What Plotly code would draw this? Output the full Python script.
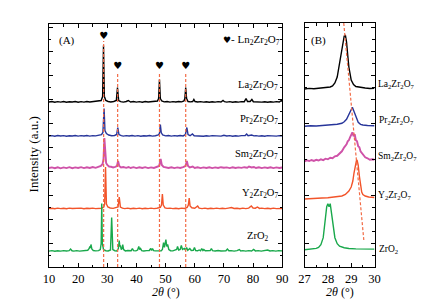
import plotly.graph_objects as go

# ---------------- data (2theta in degrees, intensity in a.u.) ----------------
LA_A = [(10,.5),(11,1),(12,.3),(13,.9),(14,.4),(15,1),(16,.3),(17,.8),(18,.5),(19,1),(20,.3),(21,.9),(22,.4),(23,1),(24,.5),(25,.9),(26,.6),(27,1.2),(27.9,2),(28.4,6),(28.7,57),(29.0,6),(29.5,2),(30.3,1),(31.2,.5),(32.2,1),(33.1,2),(33.5,15),(33.9,2),(34.6,.8),(35.5,.4),(36.5,1),(37.2,2),(38,.5),(39,1),(40,.4),(41,.9),(42,.3),(43,1),(44,.5),(45,.9),(46,.6),(47.2,1.5),(47.6,4),(47.9,23),(48.2,4),(48.7,1.5),(49.5,.6),(50.5,1),(51.5,.4),(52.5,.9),(53.5,.5),(54.5,1),(55.5,.6),(56.3,1.5),(56.6,4),(56.9,15),(57.2,4),(57.7,1),(58.5,.6),(59.3,1),(59.7,3),(60.1,1),(61,.5),(62,.9),(63,.4),(64,.8),(65,.3),(66,.8),(67,.4),(68,.9),(69,.5),(69.7,2),(70.2,.8),(71,.4),(72,.9),(73,.3),(74,.8),(75,.4),(76,.9),(77,.8),(77.6,4),(78.1,1),(79,1),(79.6,3),(80.1,.8),(81,.5),(82,.9),(83,.4),(84,.8),(85,.3),(86,.8),(87,.4),(88,.9),(89,.5),(89.7,2),(90,1)]
PR_A = [(10,.4),(11,.9),(12,.3),(13,1),(14,.5),(15,.9),(16,.3),(17,.8),(18,.5),(19,1),(20,.4),(21,.9),(22,.5),(23,1),(24,.4),(25,.9),(26,.6),(27,1),(28,1.8),(28.5,4),(28.9,28),(29.2,6),(29.7,3),(30.5,1.5),(31.5,.8),(32.5,1),(33.2,2),(33.6,9),(34,2),(34.8,.8),(35.5,.4),(36.5,.9),(37.5,.5),(38.5,1),(39.5,.4),(40.5,.9),(41.5,.3),(42.5,.8),(43.5,.5),(44.5,1),(45.5,.4),(46.5,.8),(47.5,1.5),(47.9,3),(48.2,12),(48.5,4),(49,1.5),(50,.6),(51,1),(52,.4),(53,.9),(54,.5),(55,1),(56,.6),(56.8,2),(57.3,9),(57.7,2),(58.4,.8),(59.2,2.5),(59.8,.7),(61,.4),(62,.9),(63,.3),(64,.8),(65,.4),(66,.9),(67,.5),(68,.8),(69,.4),(70,1.2),(71,.5),(72,.9),(73,.3),(74,.8),(75,.4),(76,.9),(77.3,1),(77.8,2.5),(78.3,.8),(79.5,1.5),(80.3,.6),(81,.9),(82,.4),(83,.8),(84,.3),(85,.9),(86,.5),(87,.8),(88,.4),(89,.9),(90,.6)]
SM_A = [(10,1),(11,1.6),(12,.8),(13,1.7),(14,.7),(15,1.6),(16,.9),(17,1.8),(18,.8),(19,1.6),(20,1),(21,1.8),(22,.9),(23,1.7),(24,1),(25,1.9),(26,1.2),(27,2),(27.8,3),(28.4,5),(28.7,10),(29.0,31),(29.3,11),(29.6,6),(30,4),(30.6,2.5),(31.3,2.2),(32,1.6),(32.7,2.2),(33.3,3),(33.7,8),(34.1,3),(34.7,1.6),(35.5,2),(36.5,1.2),(37.3,2),(38,1),(39,1.8),(40,.9),(41,1.7),(42,1),(43,1.8),(44,.9),(45,1.6),(46,1),(47,1.8),(47.8,3),(48.3,10),(48.7,4),(49.3,2),(50,1.5),(51,1),(52,1.7),(53,.9),(54,1.6),(55,1),(56,1.8),(56.8,3),(57.3,8),(57.7,3),(58.3,1.5),(59.3,2.5),(60,1),(61,1.7),(62,.9),(63,1.6),(64,1),(65,1.7),(66,.9),(67,1.6),(68,1),(69,1.8),(70,1.2),(71,1.6),(72,.9),(73,1.7),(74,1),(75,1.6),(76,1.1),(77,1.8),(78,1.3),(78.6,2.5),(79.5,1.5),(80.3,2),(81,1),(82,1.7),(83,.9),(84,1.6),(85,1),(86,1.7),(87,.9),(88,1.6),(89,1),(90,1.5)]
Y_A = [(10,.4),(11,.8),(12,.3),(13,.9),(14,.4),(15,.8),(16,.3),(17,.9),(18,.5),(19,.8),(20,.4),(21,.9),(22,.3),(23,.8),(24,.5),(25,.9),(26,.4),(27,.9),(28,.8),(28.8,2),(29.1,5),(29.4,42),(29.7,5),(30.2,2),(31,1),(32,.6),(33,1),(33.7,2),(34.1,12),(34.5,2),(35.2,.8),(36,.4),(37,.9),(38,.3),(39,.8),(40,.4),(41,.9),(42,.3),(43,.8),(44,.4),(45,.9),(46,.4),(47,.8),(48.2,1.5),(48.6,4),(48.9,15),(49.2,4),(49.8,1.2),(50.5,.6),(51.5,.9),(52.5,.4),(53.5,.8),(54.5,.3),(55.5,.9),(56.5,.5),(57.4,1.5),(57.8,4),(58.1,11),(58.4,3),(59,1.2),(60,.7),(61,3),(61.5,.8),(62.5,.4),(63.5,.9),(64.5,.3),(65.5,.8),(66.5,.4),(67.5,.9),(68.5,.4),(69.5,.8),(70.5,.4),(71.5,.9),(72.6,1.5),(73.5,.5),(74.5,.8),(75.5,.3),(76.5,.9),(77.5,.4),(78.5,.9),(79.4,3),(80,1),(80.8,.8),(81.5,2),(82.2,.6),(83,.9),(84,.4),(85,.8),(86,.3),(87,.9),(88,.4),(89,.8),(90,.5)]
ZRO2_A = [(10,.4),(11,.9),(12,.3),(13,.8),(14,.4),(15,.9),(16,.5),(16.9,.8),(17.4,2.5),(17.9,.7),(18.5,.4),(19.5,.9),(20.5,.4),(21.5,.8),(22.5,.5),(23.3,1.2),(23.8,3),(24.0,5),(24.2,3.5),(24.4,7),(24.7,2.5),(25.2,1),(26,.6),(27,.9),(27.6,2),(27.9,8),(28.1,48),(28.3,8),(28.7,2),(29.5,.8),(30.3,.5),(31.1,1.5),(31.5,34),(31.9,2),(32.6,.8),(33.3,.6),(33.8,3),(34.1,11),(34.3,5),(34.5,6),(34.8,2),(35.1,3),(35.3,7),(35.6,2),(36.2,.6),(37,1),(38.2,.8),(38.6,3),(39,.8),(39.8,.6),(40.4,1.5),(40.8,5),(41.1,2),(41.4,3),(41.8,.8),(42.5,.5),(43.5,.9),(44.4,1),(44.9,3),(45.2,1),(45.5,3),(45.9,.8),(46.5,.6),(47.5,.9),(48.5,.7),(48.9,2),(49.3,9),(49.6,4),(50.1,12),(50.4,5),(50.7,7),(51.1,2),(51.7,.8),(52.5,.6),(53.3,1),(53.8,2),(54.1,5),(54.5,1.5),(55,2),(55.4,6),(55.8,2),(56.4,3),(56.8,1.5),(57.2,4),(57.6,1.2),(58.3,3),(58.8,1),(59.5,1.2),(59.9,4),(60.3,1),(61,.7),(61.5,1.5),(62,.7),(62.4,3),(62.8,1),(63.1,2),(63.6,.7),(64.5,.8),(65.3,1),(65.7,3),(66.1,.8),(67,.5),(68,1),(69,.5),(70,.9),(70.7,.7),(71.2,2.5),(71.7,.7),(72.5,.9),(73.5,.4),(74.5,.9),(75.3,2),(75.8,.6),(76.5,.9),(77.5,.4),(78.5,.9),(79.5,.5),(80.2,2),(80.8,.6),(81.8,.9),(82.8,.4),(83.8,.9),(85,1.5),(85.8,.5),(86.8,.9),(87.8,.4),(88.8,.9),(90,.6)]

LA_B = [(27,0),(27.2,.6),(27.4,.2),(27.6,.7),(27.8,.5),(28.0,1.2),(28.1,2),(28.2,3),(28.3,6),(28.4,12),(28.5,26),(28.6,42),(28.7,53),(28.75,54),(28.8,47),(28.85,34),(28.9,22),(29.0,9),(29.1,4.5),(29.2,2.5),(29.3,2),(29.4,1.5),(29.6,1),(29.8,.5),(30,.6)]
PR_B = [(27,0),(27.25,.6),(27.5,.3),(27.75,.8),(28,1),(28.2,1.2),(28.4,2),(28.6,3),(28.7,4.5),(28.8,7),(28.9,12),(28.95,15),(29.0,18),(29.05,19),(29.1,16),(29.15,13),(29.2,9),(29.3,4),(29.4,2),(29.5,1.3),(29.7,.8),(29.85,.4),(30,.6)]
SM_B = [(27,0),(27.1,1),(27.2,.2),(27.3,1.3),(27.4,.4),(27.5,1.5),(27.6,.8),(27.7,2),(27.8,1.2),(27.9,2.6),(28.0,2),(28.1,3.5),(28.2,3),(28.3,5),(28.4,5.5),(28.5,8),(28.6,10),(28.7,14),(28.8,17),(28.85,20),(28.9,21),(28.95,24),(29.0,26),(29.05,29),(29.1,25),(29.15,27),(29.2,21),(29.25,20),(29.3,15),(29.35,14),(29.4,10),(29.5,7),(29.6,4),(29.7,3),(29.8,1.5),(29.9,2),(30,1.5)]
Y_B = [(27,0),(27.25,.5),(27.5,.4),(27.75,1),(28,1.2),(28.2,1.8),(28.4,2.2),(28.6,3),(28.75,4.5),(28.9,8),(29.0,12),(29.07,18),(29.12,26),(29.17,33),(29.22,38),(29.25,39),(29.3,34),(29.35,23),(29.4,13),(29.45,7),(29.5,4.5),(29.6,3),(29.75,2),(29.9,1.6),(30,1.5)]
ZRO2_B = [(27,0),(27.2,.5),(27.4,.8),(27.5,1.3),(27.6,2.2),(27.7,5),(27.8,12),(27.85,22),(27.9,34),(27.95,43),(28.0,46),(28.05,43),(28.1,46),(28.15,37),(28.2,25),(28.25,17),(28.3,12),(28.4,6),(28.5,3.5),(28.7,2),(28.9,1.2),(29.2,.8),(29.6,.5),(30,.6)]

SAMPLES = ["La<sub>2</sub>Zr<sub>2</sub>O<sub>7</sub>", "Pr<sub>2</sub>Zr<sub>2</sub>O<sub>7</sub>",
           "Sm<sub>2</sub>Zr<sub>2</sub>O<sub>7</sub>", "Y<sub>2</sub>Zr<sub>2</sub>O<sub>7</sub>",
           "ZrO<sub>2</sub>"]
PATTERNS_A = [LA_A, PR_A, SM_A, Y_A, ZRO2_A]
PATTERNS_B = [LA_B, PR_B, SM_B, Y_B, ZRO2_B]
OFFSETS_A = [164.5, 130.5, 98, 58, 15.5]
OFFSETS_B = [178, 140.7, 105.7, 68, 17.3]

# Ln2Zr2O7 reflections marked with hearts / dashed lines
REFL_2THETA = [28.75, 33.55, 47.9, 56.9]
HEART_Y = [231, 201, 201, 201]
LINE_TOP = [226, 195, 195, 195]
SHIFT_LINE_X = [28.68, 29.54]
SHIFT_LINE_Y = [244, 27]

COLORS = ["#000000", "#27359a", "#cf52a8", "#f2542a", "#19a84b"]
WIDTHS = [1.4, 1.4, 1.9, 1.4, 1.4]
DASH_COLOR = "#f26a45"
FONT = "Liberation Serif, Times New Roman, serif"

W, H = 425, 299
def px(x): return x / W
def py(y): return 1 - y / H

fig = go.Figure()
for pat, off, col, w in zip(PATTERNS_A, OFFSETS_A, COLORS, WIDTHS):
    xs, ys = zip(*pat)
    fig.add_trace(go.Scatter(x=list(xs), y=[v + off for v in ys], mode="lines",
                             line=dict(color=col, width=w), xaxis="x", yaxis="y",
                             showlegend=False, hoverinfo="skip"))
for pat, off, col, w in zip(PATTERNS_B, OFFSETS_B, COLORS, WIDTHS):
    xs, ys = zip(*pat)
    fig.add_trace(go.Scatter(x=list(xs), y=[v + off for v in ys], mode="lines",
                             line=dict(color=col, width=w), xaxis="x2", yaxis="y2",
                             showlegend=False, hoverinfo="skip"))

# dashed reflection lines
for xr, top in zip(REFL_2THETA, LINE_TOP):
    fig.add_trace(go.Scatter(x=[xr, xr], y=[0, top], mode="lines",
                             line=dict(color=DASH_COLOR, width=1.2, dash="3px,2px"),
                             xaxis="x", yaxis="y", showlegend=False, hoverinfo="skip"))
fig.add_trace(go.Scatter(x=SHIFT_LINE_X, y=SHIFT_LINE_Y, mode="lines",
                         line=dict(color=DASH_COLOR, width=1.2, dash="3px,2px"),
                         xaxis="x2", yaxis="y2", showlegend=False, hoverinfo="skip"))
# hearts
fig.add_trace(go.Scatter(x=REFL_2THETA, y=HEART_Y, mode="text", text=["♥"] * 4,
                         textfont=dict(family="DejaVu Sans", size=10, color="black"),
                         xaxis="x", yaxis="y", showlegend=False, hoverinfo="skip"))

ax_common = dict(showline=True, linecolor="black", linewidth=1, mirror="allticks",
                 ticks="inside", ticklen=4, tickcolor="black", showgrid=False, zeroline=False,
                 tickfont=dict(family=FONT, size=12.5, color="black"))
fig.update_layout(
    width=W, height=H, margin=dict(l=0, r=0, t=0, b=0),
    paper_bgcolor="white", plot_bgcolor="white",
    xaxis=dict(domain=[px(36), px(276)], range=[10, 90], dtick=10, tick0=10,
               minor=dict(dtick=5, ticklen=2.5, ticks="inside", tickcolor="black"),
               anchor="y", **ax_common),
    yaxis=dict(domain=[py(259), py(16)], range=[0, 243], dtick=24, showticklabels=False,
               minor=dict(dtick=12, ticklen=2.5, ticks="inside", tickcolor="black"),
               anchor="x", **ax_common),
    xaxis2=dict(domain=[px(299), px(371)], range=[27, 30], dtick=1, tick0=27,
                minor=dict(dtick=0.5, ticklen=2.5, ticks="inside", tickcolor="black"),
                anchor="y2", **ax_common),
    yaxis2=dict(domain=[py(259), py(15)], range=[0, 244], dtick=24, showticklabels=False,
                minor=dict(dtick=12, ticklen=2.5, ticks="inside", tickcolor="black"),
                anchor="x2", **ax_common),
)

ann = []
def add_text(text, x, y, xanchor="center", size=11, angle=0):
    ann.append(dict(text=text, x=px(x), y=py(y), xref="paper", yref="paper",
                    xanchor=xanchor, yanchor="middle", showarrow=False, textangle=angle,
                    font=dict(family=FONT, size=size, color="black")))

LABEL_A_POS = [(274, 77), (274, 112), (274, 146), (274, 185), (264, 228)]
LABEL_B_POS = [(373, 76), (374, 113), (373, 148), (373, 187), (374, 241)]
for s, (x, y) in zip(SAMPLES, LABEL_A_POS):
    add_text(s, x, y, "right", 10.5)
for s, (x, y) in zip(SAMPLES, LABEL_B_POS):
    add_text(s, x, y, "left", 9.5)
add_text("<span style='font-family:DejaVu Sans;font-size:9px'>♥</span>- Ln<sub>2</sub>Zr<sub>2</sub>O<sub>7</sub>",
         276, 32, "right", 11)
add_text("(A)", 44, 32, "left", 11)
add_text("(B)", 304, 32, "left", 11)
add_text("Intensity (a.u.)", 20, 146, "center", 13, -90)
add_text("<i>2θ</i> (°)", 156, 284, "center", 12)
add_text("<i>2θ</i> (°)", 335, 284, "center", 12)
fig.update_layout(annotations=ann)

fig.write_html("out.html")
